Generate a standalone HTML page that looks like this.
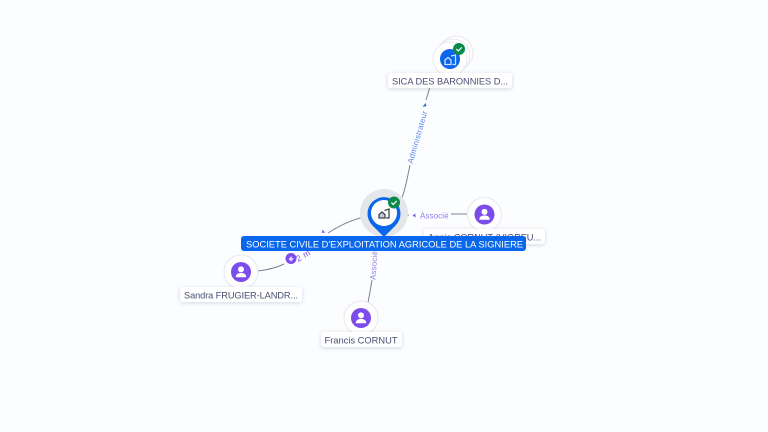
<!DOCTYPE html>
<html>
<head>
<meta charset="utf-8">
<style>
html,body{margin:0;padding:0;background:#fbfdff;}
body{width:768px;height:432px;overflow:hidden;}
svg{display:block;}
text{font-family:"Liberation Sans",sans-serif;}
</style>
</head>
<body>
<svg width="768" height="432" viewBox="0 0 768 432" xmlns="http://www.w3.org/2000/svg">
<defs>
<filter id="s" x="-30%" y="-50%" width="160%" height="220%"><feDropShadow dx="0" dy="1" stdDeviation="2" flood-color="#1b2a4a" flood-opacity=".16"/></filter>
<g id="person"><circle cx="0" cy="0" r="10" fill="#7c4deb"/><circle cx="0" cy="-2.600" r="3" fill="#fff"/><path d="M-5.200 5.200c0-3 2.200-4.200 5.200-4.200s5.200 1.200 5.200 4.200z" fill="#fff"/></g>
<g id="check"><circle cx="0" cy="0" r="6" fill="#0c8a4c"/><path d="M-2.600 .1l1.900 1.900 3.400-3.600" fill="none" stroke="#fff" stroke-width="1.200"/></g>
</defs>

<!-- connectors -->
<g fill="none" stroke="#7d8298" stroke-width="1">
<path d="M430 87L426 100"/>
<path d="M410 165C407 180 405 190 401 201"/>
<path d="M258 271C266 270 276 268 284 264"/>
<path d="M328 233C342 224 355 218 370 216"/>
<path d="M372 280L368 303"/>
<path d="M400 215H409"/>
<path d="M451 214H468"/>
</g>
<path d="M422.500 107L426.500 106 425.500 103z" fill="#1f6fe0"/>
<path d="M412.500 215.500L415.500 213.500V217.500z" fill="#7c5ce6"/>
<path d="M322.500 229.500L325 232.500 322 233z" fill="#7c4deb"/>

<text transform="translate(412.500 164) rotate(-74)" font-size="7.800" fill="#5b86e4" letter-spacing=".3">Administrateur</text>
<text x="420" y="218.500" font-size="8" fill="#9380e8" letter-spacing=".1">Associé</text>
<text transform="translate(375.500 280) rotate(-86)" font-size="8" fill="#9380e8" letter-spacing=".1">Associé</text>
<circle cx="291" cy="258.500" r="5.500" fill="#7c4deb"/>
<path d="M288.500 259l3-3 .5 2 2 .5-3 3z" fill="#dcd2fb"/>
<text transform="translate(298 262) rotate(-30)" font-size="8.500" fill="#7c4deb" letter-spacing=".4">2 m</text>

<!-- top node -->
<circle cx="456" cy="53" r="17" fill="#fff" stroke="#e6e8ee"/>
<circle cx="453" cy="56" r="17" fill="#fff" stroke="#e6e8ee"/>
<circle cx="450" cy="59" r="17" fill="#fff" stroke="#e6e8ee"/>
<circle cx="450" cy="59" r="10" fill="#0a66ea"/>
<path d="M445 64.500v-4.500l3-2.500 3 2.500v4.500zM451 56l4.500-1v9.500h-3" fill="none" stroke="#cfe0ff" stroke-width="1.300"/>
<use href="#check" x="459" y="49"/>
<rect x="388" y="73" width="124" height="15" rx="3" fill="#fff" filter="url(#s)"/>
<text x="450" y="84.500" font-size="9.300" text-anchor="middle" fill="#4a4f72" textLength="116" lengthAdjust="spacing">SICA DES BARONNIES D...</text>

<!-- right node -->
<circle cx="484.500" cy="214.500" r="17" fill="#fff" stroke="#e6e8ee"/>
<use href="#person" x="484.500" y="214.500"/>
<rect x="424" y="229" width="121" height="15" rx="3" fill="#fff" filter="url(#s)"/>
<text x="484.500" y="240.500" font-size="9.300" text-anchor="middle" fill="#4a4f72" textLength="113" lengthAdjust="spacing">Annie CORNUT (VIGREU...</text>

<!-- left node -->
<circle cx="241" cy="272" r="17" fill="#fff" stroke="#e6e8ee"/>
<use href="#person" x="241" y="272"/>
<rect x="180" y="287" width="122" height="15" rx="3" fill="#fff" filter="url(#s)"/>
<text x="241" y="298.500" font-size="9.300" text-anchor="middle" fill="#4a4f72" textLength="114" lengthAdjust="spacing">Sandra FRUGIER-LANDR...</text>

<!-- bottom node -->
<circle cx="361" cy="318" r="17" fill="#fff" stroke="#e6e8ee"/>
<use href="#person" x="361" y="318"/>
<rect x="321" y="332" width="81" height="15" rx="3" fill="#fff" filter="url(#s)"/>
<text x="361" y="343.500" font-size="9.300" text-anchor="middle" fill="#4a4f72" textLength="73" lengthAdjust="spacing">Francis CORNUT</text>

<!-- central node -->
<circle cx="384" cy="213" r="24" fill="#e4e6e9"/>
<path d="M384 237L372.500 225.500A16.500 16.500 0 1 1 395.500 225.500Z" fill="#0a66ea"/>
<circle cx="384" cy="213" r="13" fill="#fff"/>
<g fill="#c9ccd4" stroke="#3d4252" stroke-width="1.300">
<path d="M379 218v-3.500l3-2.500 3 2.500v3.500z"/>
<path d="M384.500 210.500l4.500-1.500v9h-3" fill="none"/>
</g>
<use href="#check" x="394" y="202.500"/>
<rect x="241" y="236" width="285" height="15" rx="3" fill="#0a66ea"/>
<text x="384.500" y="247.500" font-size="9.300" text-anchor="middle" fill="#fff" textLength="277" lengthAdjust="spacing">SOCIETE CIVILE D'EXPLOITATION AGRICOLE DE LA SIGNIERE</text>
</svg>
</body>
</html>
